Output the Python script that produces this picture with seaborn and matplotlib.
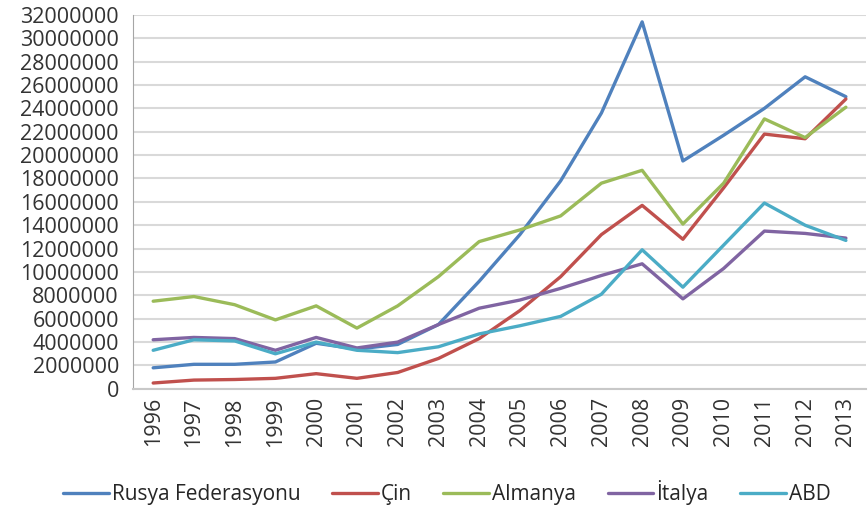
import pandas as pd
import matplotlib.pyplot as plt
import seaborn as sns
import numpy as np

# yıllar ve seriler
years = [str(y) for y in range(1996, 2014)]

rusya = [1.8e6, 2.1e6, 2.1e6, 2.3e6, 3.9e6, 3.4e6, 3.8e6, 5.5e6, 9.2e6,
         13.2e6, 17.8e6, 23.6e6, 31.4e6, 19.5e6, 21.7e6, 24.0e6, 26.7e6, 25.0e6]
cin = [0.5e6, 0.75e6, 0.8e6, 0.9e6, 1.3e6, 0.9e6, 1.4e6, 2.6e6, 4.3e6,
       6.7e6, 9.6e6, 13.2e6, 15.7e6, 12.8e6, 17.2e6, 21.8e6, 21.4e6, 24.8e6]
almanya = [7.5e6, 7.9e6, 7.2e6, 5.9e6, 7.1e6, 5.2e6, 7.1e6, 9.6e6, 12.6e6,
           13.6e6, 14.8e6, 17.6e6, 18.7e6, 14.1e6, 17.6e6, 23.1e6, 21.5e6, 24.1e6]
italya = [4.2e6, 4.4e6, 4.3e6, 3.3e6, 4.4e6, 3.5e6, 4.0e6, 5.5e6, 6.9e6,
          7.6e6, 8.6e6, 9.7e6, 10.7e6, 7.7e6, 10.3e6, 13.5e6, 13.3e6, 12.9e6]
abd = [3.3e6, 4.2e6, 4.1e6, 3.0e6, 4.0e6, 3.3e6, 3.1e6, 3.6e6, 4.7e6,
       5.4e6, 6.2e6, 8.1e6, 11.9e6, 8.7e6, 12.3e6, 15.9e6, 14.0e6, 12.7e6]

series = {
    'Rusya Federasyonu': rusya,
    'Çin': cin,
    'Almanya': almanya,
    'İtalya': italya,
    'ABD': abd,
}
colors = ['#4F81BD', '#C0504D', '#9BBB59', '#8064A2', '#4BACC6']

rows = []
for name, vals in series.items():
    for i, v in enumerate(vals):
        rows.append({'pos': i, 'yil': years[i], 'ulke': name, 'deger': v})
df = pd.DataFrame(rows)

sns.set_style("white")
plt.rcParams['font.family'] = ['Open Sans', 'DejaVu Sans']

fig = plt.figure(figsize=(8.68, 5.13), dpi=100)
ax = fig.add_axes([0.153, 0.242, 0.845, 0.729])

sns.lineplot(data=df, x='pos', y='deger', hue='ulke', palette=colors,
             linewidth=2.4, ax=ax, legend=True, sort=False)

ax.set_xlim(-0.5, len(years) - 0.5)
ax.set_ylim(0, 32000000)
ax.set_yticks(np.arange(0, 32000001, 2000000))
ax.set_yticklabels([f"{int(v)}" for v in np.arange(0, 32000001, 2000000)], fontsize=15.5, color='#333333')
ax.set_xticks(range(len(years)))
ax.set_xticklabels(years, rotation=90, fontsize=15.5, color='#333333')
ax.set_xticks(np.arange(-0.5, len(years), 1), minor=True)
ax.tick_params(axis='x', which='major', length=0, pad=6)
ax.tick_params(axis='x', which='minor', length=7, color='#A6A6A6', width=1, direction='out')
ax.tick_params(axis='y', length=8, color='#D0D0D0', width=1.5, direction='out', pad=2)
ax.set_xlabel('')
ax.set_ylabel('')

ax.grid(axis='y', color='#D9D9D9', linewidth=1.5)
ax.set_axisbelow(True)
for s in ['top', 'right']:
    ax.spines[s].set_visible(False)
ax.spines['left'].set_color('#A6A6A6')
ax.spines['bottom'].set_color('#C8C8C8')
ax.spines['bottom'].set_linewidth(1.5)

handles, labels = ax.get_legend_handles_labels()
ax.legend(handles, labels, loc='center', bbox_to_anchor=(0.515, 0.04),
          bbox_transform=fig.transFigure, ncol=5, frameon=False,
          fontsize=15, handlelength=2.2, handletextpad=0.15, columnspacing=1.5)

plt.savefig('out.png', dpi=100)
plt.close()
